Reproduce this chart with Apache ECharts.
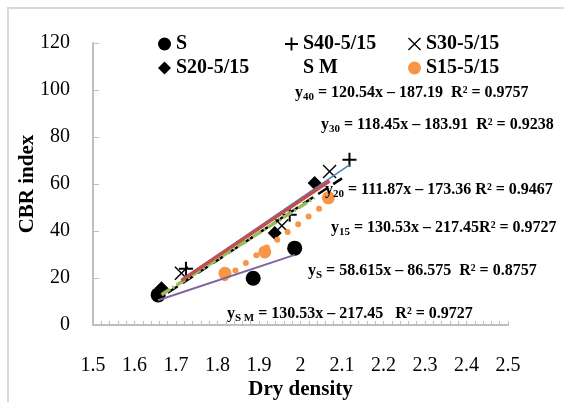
<!DOCTYPE html>
<html>
<head>
<meta charset="utf-8">
<script src="https://cdn.jsdelivr.net/npm/echarts@6/dist/echarts.min.js"></script>
<style>
  html, body { margin: 0; padding: 0; background: #fff; }
  #chart { width: 564px; height: 402px; }
</style>
</head>
<body>
<div id="chart"></div>
<script>
// Measured points: dry density (x) against CBR index (y)
const xS = [1.657, 1.886, 1.986];
const yS = [12.8, 19.9, 32.7];
const x40 = [1.724, 1.974, 2.118];
const y40 = [23.9, 46.9, 70.3];
const x30 = [1.713, 1.955, 2.070];
const y30 = [22.0, 42.2, 65.3];
const x20 = [1.665, 1.938, 2.034];
const y20 = [15.6, 39.1, 60.4];
const x15 = [1.818, 1.914, 2.067];
const y15 = [22.0, 31.1, 54.1];
const xSM = [1.68, 1.90, 2.10];
const ySM = [13.7, 39.2, 62.4];

// Linear fits: [slope, intercept, R²]
const fitS = [58.615, -86.575, 0.8757];
const fit40 = [120.54, -187.19, 0.9757];
const fit30 = [118.45, -183.91, 0.9238];
const fit20 = [111.87, -173.36, 0.9467];
const fit15 = [130.53, -217.45, 0.9727];
const fitSM = [130.53, -217.45, 0.9727];

// Axis ticks
const xTicks = [1.5, 1.6, 1.7, 1.8, 1.9, 2.0, 2.1, 2.2, 2.3, 2.4, 2.5];
const yTicks = [0, 20, 40, 60, 80, 100, 120];

const FONT = '"Liberation Serif", "Times New Roman", serif';

const PLUS = 'path://M-1,-7H1V-1H7V1H1V7H-1V1H-7V-1H-1Z';
const CROSS = 'path://M-7,-6L-6,-7L0,-1L6,-7L7,-6L1,0L7,6L6,7L0,1L-6,7L-7,6L-1,0Z';

function pairs(xs, ys) { return xs.map((x, i) => [x, ys[i]]); }

// Fitted line evaluated over the x-range of its series
function fitLine(xs, fit) {
  const lo = Math.min(...xs), hi = Math.max(...xs);
  return [[lo, fit[0] * lo + fit[1]], [hi, fit[0] * hi + fit[1]]];
}

function markers(name, xs, ys, symbol, size, color) {
  return {
    name, type: 'scatter', data: pairs(xs, ys), symbol, symbolSize: size,
    itemStyle: { color, opacity: 1 }, z: 2, silent: true
  };
}

function line(name, data, color, width, dash, cap, z) {
  return {
    name, type: 'line', data, symbol: 'none', silent: true, z: z,
    lineStyle: { color, width, type: dash || 'solid', cap: cap || 'butt' }
  };
}

function eqText(x, y, sub, body) {
  return {
    type: 'text', x, y, z: 10,
    style: {
      text: '{y|y}{s|' + sub + '}{t|' + body + '}',
      verticalAlign: 'middle', align: 'left',
      rich: {
        y: { fontFamily: FONT, fontWeight: 'bold', fontSize: 16, fill: '#000' },
        s: { fontFamily: FONT, fontWeight: 'bold', fontSize: 11, fill: '#000', padding: [9, 0, 0, 0] },
        t: { fontFamily: FONT, fontWeight: 'bold', fontSize: 16, fill: '#000' }
      }
    }
  };
}

function fmt(fit) {
  return ' = ' + fit[0] + 'x – ' + Math.abs(fit[1]);
}

const chart = echarts.init(document.getElementById('chart'), null, { renderer: 'canvas' });

const legendText = { fontFamily: FONT, fontWeight: 'bold', fontSize: 20, color: '#000' };
function legendCol(left, names) {
  return {
    orient: 'vertical', left, top: 29, itemGap: 4, itemWidth: 13, itemHeight: 13,
    selectedMode: false, textStyle: legendText, data: names
  };
}

chart.setOption({
  animation: false,
  backgroundColor: '#fff',
  grid: { left: 93, right: 56, top: 43, bottom: 77, outerBoundsMode: 'none', containLabel: false },
  legend: [
    legendCol(153, ['S', 'S20-5/15']),
    legendCol(280, ['S40-5/15', { name: 'S M', icon: 'none' }]),
    legendCol(403, ['S30-5/15', 'S15-5/15'])
  ],
  xAxis: {
    type: 'value', min: xTicks[0], max: xTicks[xTicks.length - 1], interval: 0.1,
    name: 'Dry density', nameLocation: 'middle', nameGap: 54, nameMoveOverlap: false,
    nameTextStyle: { fontFamily: FONT, fontWeight: 'bold', fontSize: 21, color: '#000' },
    axisLine: { lineStyle: { color: '#BFBFBF', width: 2 } },
    axisTick: { inside: true, length: 4, lineStyle: { color: '#BFBFBF', width: 1 } },
    minorTick: { show: true, splitNumber: 5, length: 4, lineStyle: { color: '#BFBFBF', width: 1 } },
    splitLine: { show: false },
    axisLabel: {
      margin: 31, fontFamily: FONT, fontSize: 20, color: '#000',
      formatter: v => String(Number(v.toFixed(1)))
    }
  },
  yAxis: {
    type: 'value', min: yTicks[0], max: yTicks[yTicks.length - 1], interval: 20,
    name: 'CBR index', nameLocation: 'middle', nameGap: 55, nameMoveOverlap: false,
    nameTextStyle: { fontFamily: FONT, fontWeight: 'bold', fontSize: 21, color: '#000' },
    axisLine: { show: true, lineStyle: { color: '#BFBFBF', width: 2 } },
    axisTick: { show: true, inside: true, length: 6, lineStyle: { color: '#BFBFBF', width: 1 } },
    splitLine: { show: false },
    axisLabel: { margin: 23, fontFamily: FONT, fontSize: 20, color: '#000' }
  },
  series: [
    markers('S', xS, yS, 'circle', 15, '#000'),
    markers('S40-5/15', x40, y40, PLUS, 14, '#000'),
    markers('S30-5/15', x30, y30, CROSS, 14, '#000'),
    markers('S20-5/15', x20, y20, 'diamond', 14, '#000'),
    markers('S15-5/15', x15, y15, 'circle', 13, '#F79646'),
    line('S M', pairs(xSM, ySM), '#000', 2.5, [12, 6], 'butt', 4),
    line('fit S', fitLine(xS, fitS), '#8064A2', 2, 'solid', 'butt', 5),
    line('fit 15', fitLine(x15, fit15), '#F79646', 6, [0, 13], 'round', 3),
    line('fit 40', fitLine(x40, fit40), '#4F81BD', 1.5, 'solid', 'butt', 3),
    line('fit 20', fitLine(x20, fit20), '#9BBB59', 3.5, [10, 3, 2, 3], 'butt', 5),
    line('fit 30', fitLine(x30, fit30), '#C0504D', 3.5, 'solid', 'butt', 6)
  ],
  graphic: [
    { type: 'rect', shape: { x: 8, y: 8, width: 620, height: 460 },
      style: { fill: 'none', stroke: '#D9D9D9', lineWidth: 2 }, z: -1, silent: true },
    eqText(295, 93, '40', fmt(fit40) + '  R² = ' + fit40[2]),
    eqText(321, 125, '30', fmt(fit30) + '  R² = ' + fit30[2]),
    eqText(325, 190, '20', fmt(fit20) + ' R² = ' + fit20[2]),
    eqText(331, 228, '15', fmt(fit15) + 'R² = ' + fit15[2]),
    eqText(308, 271, 'S', fmt(fitS) + '  R² = ' + fitS[2]),
    eqText(227, 314, 'S M', fmt(fitSM) + '   R² = ' + fitSM[2])
  ]
});
</script>
</body>
</html>
